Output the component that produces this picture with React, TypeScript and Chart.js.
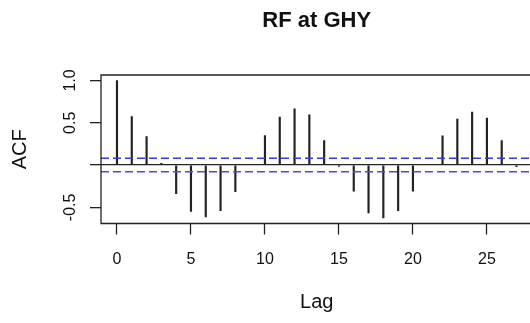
import { useEffect, useRef } from 'react';
import { Chart, registerables } from 'chart.js';

Chart.register(...registerables);

const lags = [0, 1, 2, 3, 4, 5, 6, 7, 8, 9, 10, 11, 12, 13, 14, 15, 16, 17, 18, 19, 20, 21, 22, 23, 24, 25, 26, 27];
const acfValues = [
  1.0, 0.574, 0.338, 0.02, -0.339, -0.548, -0.614, -0.54, -0.315, 0.008,
  0.35, 0.567, 0.665, 0.594, 0.29, -0.017, -0.31, -0.567, -0.626, -0.54,
  -0.31, 0.005, 0.346, 0.543, 0.626, 0.555, 0.29, -0.02,
];
const ciBound = 0.08;
const xTicks = [0, 5, 10, 15, 20, 25];
const xTickLabels = ['0', '5', '10', '15', '20', '25'];
const yTicks = [-0.5, 0, 0.5, 1.0];
const yTickLabels = ['-0.5', '', '0.5', '1.0'];
const titleText = 'RF at GHY';
const xTitle = 'Lag';
const yTitle = 'ACF';

const FONT = "'Liberation Sans', Arial, Helvetica, sans-serif";
const INK = '#111';

export default function App() {
  const ref = useRef<HTMLCanvasElement>(null);

  useEffect(() => {
    const span = lags[lags.length - 1] - lags[0];
    const xMin = lags[0] - 0.04 * span;
    const xMax = lags[lags.length - 1] + 0.04 * span;
    const lo = Math.min(...acfValues);
    const hi = Math.max(...acfValues);
    const yMin = lo - 0.04 * (hi - lo);
    const yMax = hi + 0.04 * (hi - lo);

    const boxPlugin = {
      id: 'rbox',
      afterDatasetsDraw(chart: any) {
        const { ctx, chartArea: a } = chart;
        ctx.save();
        ctx.strokeStyle = '#222';
        ctx.lineWidth = 1.3;
        ctx.beginPath();
        ctx.moveTo(a.right + 2, a.top);
        ctx.lineTo(a.left, a.top);
        ctx.lineTo(a.left, a.bottom);
        ctx.lineTo(a.right + 2, a.bottom);
        ctx.stroke();
        ctx.restore();
      },
    };

    const chart = new Chart(ref.current!, {
      type: 'bar',
      data: {
        datasets: [
          {
            type: 'bar',
            data: lags.map((l, i) => ({ x: l, y: acfValues[i] })),
            backgroundColor: '#222',
            barThickness: 1.5,
            order: 2,
          } as any,
          {
            type: 'line',
            data: [{ x: xMin, y: ciBound }, { x: xMax, y: ciBound }],
            borderColor: '#3a3ad8',
            borderWidth: 1.5,
            borderDash: [8, 4],
            pointRadius: 0,
            order: 1,
          } as any,
          {
            type: 'line',
            data: [{ x: xMin, y: -ciBound }, { x: xMax, y: -ciBound }],
            borderColor: '#4a4ae0',
            borderWidth: 1.5,
            borderDash: [8, 4],
            pointRadius: 0,
            order: 1,
          } as any,
        ],
      },
      options: {
        responsive: false,
        animation: false,
        devicePixelRatio: 1,
        layout: { padding: { left: 0, right: 99.5, top: 0, bottom: 0 } },
        plugins: {
          legend: { display: false },
          tooltip: { enabled: false },
          title: {
            display: true,
            fullSize: false,
            text: titleText,
            color: INK,
            font: { family: FONT, size: 22, weight: 'bold' },
            padding: { top: 7.5, bottom: 41.1 },
          },
        },
        scales: {
          x: {
            type: 'linear',
            min: xMin,
            max: xMax,
            offset: false,
            afterBuildTicks: (s: any) => {
              s.ticks = xTicks.map((v) => ({ value: v }));
            },
            afterFit: (s: any) => {
              s.height = 99.5;
            },
            grid: {
              offset: false,
              drawOnChartArea: false,
              drawTicks: true,
              tickLength: 11,
              tickColor: '#222',
              tickWidth: 1.3,
            },
            border: { display: false },
            ticks: {
              autoSkip: false,
              maxRotation: 0,
              minRotation: 0,
              padding: 15,
              color: INK,
              font: { family: FONT, size: 16 },
              callback: (v: any) => {
                const i = xTicks.indexOf(Number(v));
                return i >= 0 ? xTickLabels[i] : '';
              },
            },
            title: {
              display: true,
              text: xTitle,
              color: INK,
              font: { family: FONT, size: 20 },
              padding: { top: 0, bottom: 9 },
            },
          },
          y: {
            type: 'linear',
            min: yMin,
            max: yMax,
            afterBuildTicks: (s: any) => {
              s.ticks = yTicks.map((v) => ({ value: v }));
            },
            afterFit: (s: any) => {
              s.width = 101;
            },
            grid: {
              drawOnChartArea: true,
              drawTicks: true,
              tickLength: 11,
              tickColor: '#222',
              tickWidth: 1.3,
              color: (c: any) => (c.tick && c.tick.value === 0 ? '#222' : 'rgba(0,0,0,0)'),
              lineWidth: 1.3,
            },
            border: { display: false },
            ticks: {
              autoSkip: false,
              minRotation: 90,
              maxRotation: 90,
              crossAlign: 'center',
              padding: 6,
              color: INK,
              font: { family: FONT, size: 16 },
              callback: (v: any) => {
                const i = yTicks.indexOf(Number(v));
                return i >= 0 ? yTickLabels[i] : '';
              },
            },
            title: {
              display: true,
              text: yTitle,
              color: INK,
              font: { family: FONT, size: 20 },
              padding: { top: 8, bottom: 0 },
            },
          },
        },
      },
      plugins: [boxPlugin],
    });
    return () => chart.destroy();
  }, []);

  return (
    <div style={{ position: 'fixed', left: 0, top: 0, width: 530, height: 323, overflow: 'hidden', background: '#fff' }}>
      <canvas ref={ref} width={632} height={323} style={{ display: 'block', width: 632, height: 323 }} />
    </div>
  );
}
